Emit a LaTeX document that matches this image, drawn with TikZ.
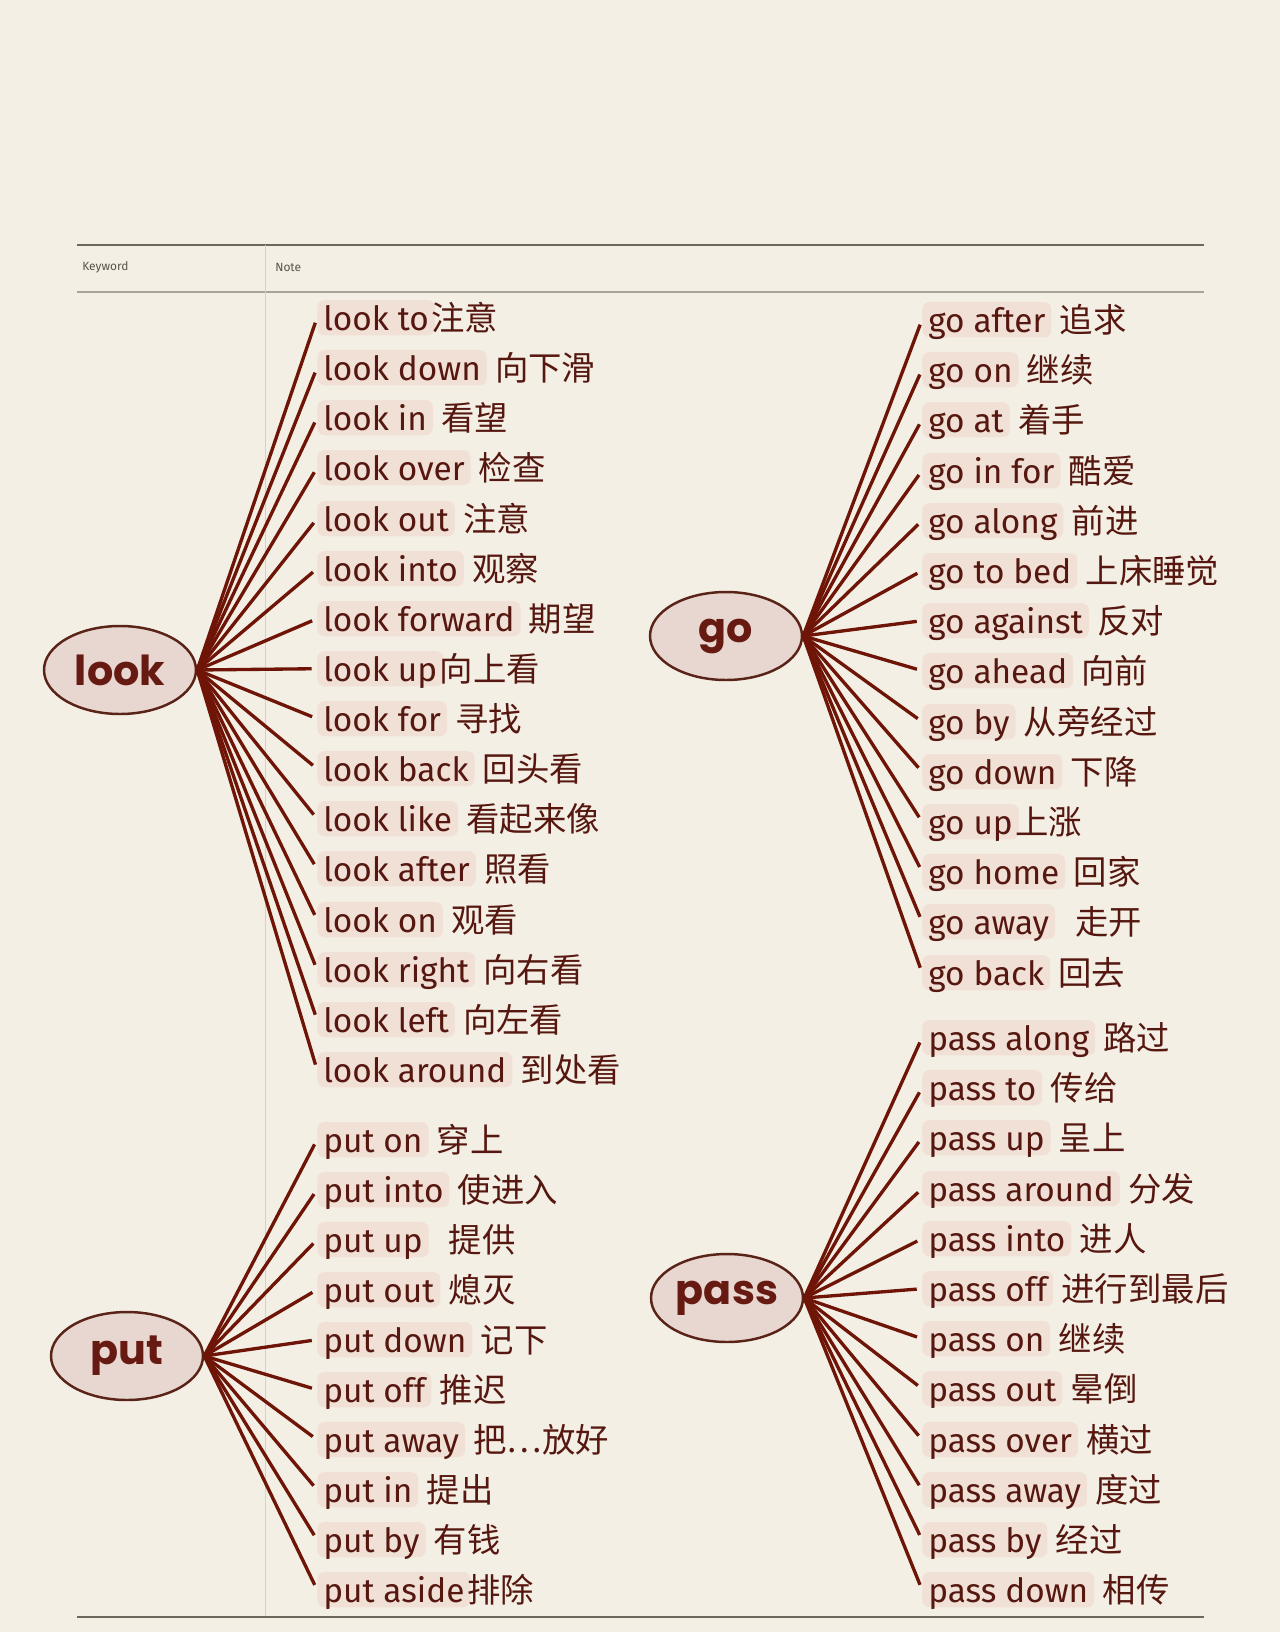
\documentclass[tikz,border=0pt]{standalone}
\usepackage{fontspec}
\setmainfont{Fira Sans}
\newfontfamily\cjk{Noto Sans CJK SC}
\newfontfamily\kwfont{Poppins}
\usetikzlibrary{shapes.geometric}
\definecolor{paper}{HTML}{F4EFE5}
\definecolor{ink}{HTML}{55170F}
\definecolor{branch}{HTML}{6E1508}
\definecolor{hilite}{HTML}{F1E0D6}
\definecolor{kwfill}{HTML}{E7D7D0}
\definecolor{kwline}{HTML}{5A2318}
\definecolor{kwtext}{HTML}{661A12}
\definecolor{rule}{HTML}{6E675C}
\newcommand{\gp}{\hspace{0.35em}}
\tikzset{
  keyword/.style={ellipse, draw=kwline, fill=kwfill, line width=1.4pt,
    minimum width=3.04cm, minimum height=1.76cm, inner sep=0pt,
    text=kwtext, font=\fontsize{23.5}{24}\selectfont\kwfont\bfseries},
  en/.style={anchor=base west, fill=hilite, rounded corners=4pt,
    inner xsep=3.4pt, inner ysep=0pt, text height=17pt, text depth=3pt,
    text=ink, font=\fontsize{19}{21}\selectfont},
  zh/.style={anchor=base west, inner sep=0pt, xshift=-2.3pt,
    text=ink, font=\fontsize{19}{21}\selectfont\cjk},
  head/.style={anchor=west, inner sep=0pt, text=rule!80!black,
    font=\fontsize{6.8}{8}\selectfont},
  twig/.style={draw=branch, line width=1.9pt, shorten >=3pt},
}
\begin{document}
\begin{tikzpicture}[x=0.02cm, y=-0.02cm]
\fill[paper] (0,0) rectangle (1280,1632);
\useasboundingbox (0,0) rectangle (1280,1632);
\draw[rule, line width=1.1pt] (77,245) -- (1204,245);
\draw[rule!60, line width=0.6pt] (77,292) -- (1204,292);
\draw[rule!30, line width=0.5pt] (265,245) -- (265,1617);
\draw[rule, line width=1.5pt] (77,1617) -- (1204,1617);
\node[head] (kwhead) at (82,267) {Keyword};
\node[head] (notehead) at (275,267) {Note};

\node[keyword] (look) at (120,670) {look};
\node[keyword] (put) at (127,1356) {put};
\node[keyword] (go) at (726,636) {go};
\node[keyword] (pass) at (727,1298) {pass};

\node[en] (lk1) at (317,330) {look to}; \node[zh] at (lk1.base east) {注意};
\node[en] (lk2) at (317,380) {look down}; \node[zh] at (lk2.base east) {\gp 向下滑};
\node[en] (lk3) at (317,430) {look in}; \node[zh] at (lk3.base east) {\gp 看望};
\node[en] (lk4) at (317,480) {look over}; \node[zh] at (lk4.base east) {\gp 检查};
\node[en] (lk5) at (317,531) {look out}; \node[zh] at (lk5.base east) {\gp 注意};
\node[en] (lk6) at (317,581) {look into}; \node[zh] at (lk6.base east) {\gp 观察};
\node[en] (lk7) at (317,631) {look forward}; \node[zh] at (lk7.base east) {\gp 期望};
\node[en] (lk8) at (317,681) {look up}; \node[zh] at (lk8.base east) {向上看};
\node[en] (lk9) at (317,731) {look for}; \node[zh] at (lk9.base east) {\gp 寻找};
\node[en] (lk10) at (317,781) {look back}; \node[zh] at (lk10.base east) {\gp 回头看};
\node[en] (lk11) at (317,831) {look like}; \node[zh] at (lk11.base east) {\gp 看起来像};
\node[en] (lk12) at (317,881) {look after}; \node[zh] at (lk12.base east) {\gp 照看};
\node[en] (lk13) at (317,932) {look on}; \node[zh] at (lk13.base east) {\gp 观看};
\node[en] (lk14) at (317,982) {look right}; \node[zh] at (lk14.base east) {\gp 向右看};
\node[en] (lk15) at (317,1032) {look left}; \node[zh] at (lk15.base east) {\gp 向左看};
\node[en] (lk16) at (317,1082) {look around}; \node[zh] at (lk16.base east) {\gp 到处看};

\node[en] (pt1) at (317,1152) {put on}; \node[zh] at (pt1.base east) {\gp 穿上};
\node[en] (pt2) at (317,1202) {put into}; \node[zh] at (pt2.base east) {\gp 使进入};
\node[en] (pt3) at (317,1252) {put up}; \node[zh] at (pt3.base east) {\gp\gp 提供};
\node[en] (pt4) at (317,1302) {put out}; \node[zh] at (pt4.base east) {\gp 熄灭};
\node[en] (pt5) at (317,1352) {put down}; \node[zh] at (pt5.base east) {\gp 记下};
\node[en] (pt6) at (317,1402) {put off}; \node[zh] at (pt6.base east) {\gp 推迟};
\node[en] (pt7) at (317,1452) {put away}; \node[zh] at (pt7.base east) {\gp 把…放好};
\node[en] (pt8) at (317,1502) {put in}; \node[zh] at (pt8.base east) {\gp 提出};
\node[en] (pt9) at (317,1552) {put by}; \node[zh] at (pt9.base east) {\gp 有钱};
\node[en] (pt10) at (317,1602) {put aside}; \node[zh] at (pt10.base east) {排除};

\node[en] (go1) at (922,332) {go after}; \node[zh] at (go1.base east) {\gp 追求};
\node[en] (go2) at (922,382) {go on}; \node[zh] at (go2.base east) {\gp 继续};
\node[en] (go3) at (922,432) {go at}; \node[zh] at (go3.base east) {\gp 着手};
\node[en] (go4) at (922,483) {go in for}; \node[zh] at (go4.base east) {\gp 酷爱};
\node[en] (go5) at (922,533) {go along}; \node[zh] at (go5.base east) {\gp 前进};
\node[en] (go6) at (922,583) {go to bed}; \node[zh] at (go6.base east) {\gp 上床睡觉};
\node[en] (go7) at (922,633) {go against}; \node[zh] at (go7.base east) {\gp 反对};
\node[en] (go8) at (922,683) {go ahead}; \node[zh] at (go8.base east) {\gp 向前};
\node[en] (go9) at (922,734) {go by}; \node[zh] at (go9.base east) {\gp 从旁经过};
\node[en] (go10) at (922,784) {go down}; \node[zh] at (go10.base east) {\gp 下降};
\node[en] (go11) at (922,834) {go up}; \node[zh] at (go11.base east) {上涨};
\node[en] (go12) at (922,884) {go home}; \node[zh] at (go12.base east) {\gp 回家};
\node[en] (go13) at (922,934) {go away}; \node[zh] at (go13.base east) {\gp\gp 走开};
\node[en] (go14) at (922,985) {go back}; \node[zh] at (go14.base east) {\gp 回去};

\node[en] (ps1) at (922,1050) {pass along}; \node[zh] at (ps1.base east) {\gp 路过};
\node[en] (ps2) at (922,1100) {pass to}; \node[zh] at (ps2.base east) {\gp 传给};
\node[en] (ps3) at (922,1150) {pass up}; \node[zh] at (ps3.base east) {\gp 呈上};
\node[en] (ps4) at (922,1201) {pass around}; \node[zh] at (ps4.base east) {\gp 分发};
\node[en] (ps5) at (922,1251) {pass into}; \node[zh] at (ps5.base east) {\gp 进人};
\node[en] (ps6) at (922,1301) {pass off}; \node[zh] at (ps6.base east) {\gp 进行到最后};
\node[en] (ps7) at (922,1351) {pass on}; \node[zh] at (ps7.base east) {\gp 继续};
\node[en] (ps8) at (922,1401) {pass out}; \node[zh] at (ps8.base east) {\gp 晕倒};
\node[en] (ps9) at (922,1452) {pass over}; \node[zh] at (ps9.base east) {\gp 横过};
\node[en] (ps10) at (922,1502) {pass away}; \node[zh] at (ps10.base east) {\gp 度过};
\node[en] (ps11) at (922,1552) {pass by}; \node[zh] at (ps11.base east) {\gp 经过};
\node[en] (ps12) at (922,1602) {pass down}; \node[zh] at (ps12.base east) {\gp 相传};

\path [twig]
    (look.east) edge (lk1.west) (look.east) edge (lk2.west)
    (look.east) edge (lk3.west) (look.east) edge (lk4.west)
    (look.east) edge (lk5.west) (look.east) edge (lk6.west)
    (look.east) edge (lk7.west) (look.east) edge (lk8.west)
    (look.east) edge (lk9.west) (look.east) edge (lk10.west)
    (look.east) edge (lk11.west) (look.east) edge (lk12.west)
    (look.east) edge (lk13.west) (look.east) edge (lk14.west)
    (look.east) edge (lk15.west) (look.east) edge (lk16.west);
\path [twig]
    (put.east) edge (pt1.west) (put.east) edge (pt2.west)
    (put.east) edge (pt3.west) (put.east) edge (pt4.west)
    (put.east) edge (pt5.west) (put.east) edge (pt6.west)
    (put.east) edge (pt7.west) (put.east) edge (pt8.west)
    (put.east) edge (pt9.west) (put.east) edge (pt10.west);
\path [twig]
    (go.east) edge (go1.west) (go.east) edge (go2.west)
    (go.east) edge (go3.west) (go.east) edge (go4.west)
    (go.east) edge (go5.west) (go.east) edge (go6.west)
    (go.east) edge (go7.west) (go.east) edge (go8.west)
    (go.east) edge (go9.west) (go.east) edge (go10.west)
    (go.east) edge (go11.west) (go.east) edge (go12.west)
    (go.east) edge (go13.west) (go.east) edge (go14.west);
\path [twig]
    (pass.east) edge (ps1.west) (pass.east) edge (ps2.west)
    (pass.east) edge (ps3.west) (pass.east) edge (ps4.west)
    (pass.east) edge (ps5.west) (pass.east) edge (ps6.west)
    (pass.east) edge (ps7.west) (pass.east) edge (ps8.west)
    (pass.east) edge (ps9.west) (pass.east) edge (ps10.west)
    (pass.east) edge (ps11.west) (pass.east) edge (ps12.west);
\end{tikzpicture}
\end{document}
